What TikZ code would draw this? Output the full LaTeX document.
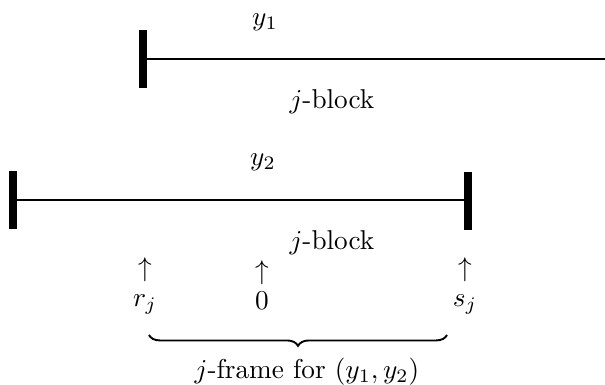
\documentclass[tikz,border=0pt]{standalone}
\usepackage{amsmath,amssymb}
\usetikzlibrary{arrows.meta,positioning,calc,decorations.pathreplacing}
\tikzset{
  block line/.style={line width=0.7pt},
  block end/.style={line width=2.6pt},
  block label/.style={inner sep=1pt, font=\normalsize},
  frame mark/.style={inner sep=1pt, align=center, font=\normalsize},
  frame brace/.style={
    decorate,
    decoration={brace, mirror, amplitude=4pt},
    line width=0.7pt,
  },
}

\begin{document}
\begin{tikzpicture}[x=0.367pt,y=-0.367pt]
  \useasboundingbox (0,0) rectangle (605,385);
  % first block
  \coordinate (a1) at (143,59);
  \coordinate (b1) at (605,59);
  \draw[block end] (143,30) -- (143,88);
  \draw[block line] (a1) -- (b1);
  \node[block label] (ya) at (265,22) {$y_1$};
  \node[block label] (ja) at (332,102) {$j$-block};
  % second block
  \coordinate (a2) at (13,200);
  \coordinate (b2) at (468,200);
  \draw[block end] (13,171) -- (13,229);
  \draw[block end] (468,172) -- (468,230);
  \draw[block line] (a2) -- (b2);
  \node[block label] (yb) at (263,162) {$y_2$};
  \node[block label] (jb) at (332,243) {$j$-block};
  % marks below
  \node[frame mark] (rj) at (145,286) {$\uparrow$\\[-1pt]$r_j$};
  \node[frame mark] (zero) at (262,285) {$\uparrow$\\[-1pt]$0$};
  \node[frame mark] (sj) at (465,286) {$\uparrow$\\[-1pt]$s_j$};
  % frame
  \coordinate (fl) at (149,335);
  \coordinate (fr) at (447,335);
  \draw[frame brace] (fl) -- (fr);
  \node[block label] (fr lab) at (307,372) {$j$-frame for $(y_1,y_2)$};
\end{tikzpicture}
\end{document}
